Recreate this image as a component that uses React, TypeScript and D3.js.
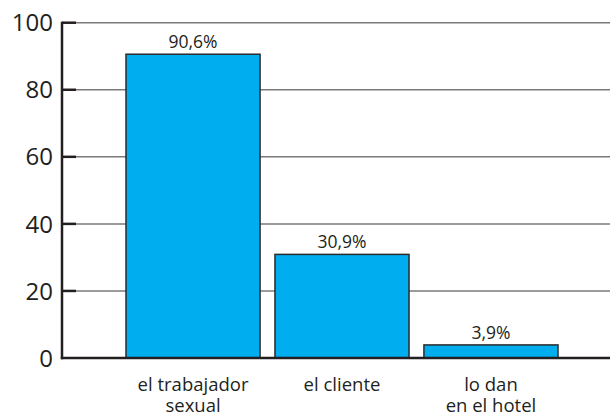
import { useEffect, useRef } from 'react';
import * as d3 from 'd3';

const categories = [['el trabajador', 'sexual'], ['el cliente'], ['lo dan', 'en el hotel']];
const values = [90.6, 30.9, 3.9];
const valueLabels = ['90,6%', '30,9%', '3,9%'];
const yTicks = [0, 20, 40, 60, 80, 100];

const FONT = '"Open Sans", "Noto Sans", sans-serif';

export default function App() {
  const svgRef = useRef<SVGSVGElement>(null);

  useEffect(() => {
    if (!svgRef.current) return;
    const svg = d3.select(svgRef.current);
    svg.selectAll('*').remove();

    const width = 610;
    const axisX = 62;

    const yScale = d3.scaleLinear().domain([0, 100]).range([358, 22.7]);
    const xScale = d3
      .scaleBand<number>()
      .domain(values.map((_, i) => i))
      .range([126, 558])
      .paddingInner(0.1)
      .paddingOuter(0);

    // grid lines
    svg
      .append('g')
      .selectAll('line')
      .data(yTicks.filter((t) => t > 0))
      .enter()
      .append('line')
      .attr('x1', axisX)
      .attr('x2', width)
      .attr('y1', (d) => yScale(d))
      .attr('y2', (d) => yScale(d))
      .attr('stroke', '#7a7a7a')
      .attr('stroke-width', 1.5);

    // tick marks (inside)
    svg
      .append('g')
      .selectAll('line')
      .data(yTicks.filter((t) => t > 0))
      .enter()
      .append('line')
      .attr('x1', axisX)
      .attr('x2', axisX + 14)
      .attr('y1', (d) => yScale(d))
      .attr('y2', (d) => yScale(d))
      .attr('stroke', '#231f20')
      .attr('stroke-width', 2.5);

    // tick labels
    svg
      .append('g')
      .selectAll('text')
      .data(yTicks)
      .enter()
      .append('text')
      .attr('x', 53)
      .attr('y', (d) => yScale(d))
      .attr('dy', '0.36em')
      .attr('text-anchor', 'end')
      .attr('font-family', FONT)
      .attr('font-size', 24)
      .attr('fill', '#231f20')
      .text((d) => d);

    // bars
    svg
      .append('g')
      .selectAll('rect')
      .data(values)
      .enter()
      .append('rect')
      .attr('x', (_, i) => xScale(i)!)
      .attr('y', (d) => yScale(d))
      .attr('width', xScale.bandwidth())
      .attr('height', (d) => yScale(0) - yScale(d))
      .attr('fill', '#00adee')
      .attr('stroke', '#2b2b2b')
      .attr('stroke-width', 1.5);

    // value labels
    svg
      .append('g')
      .selectAll('text')
      .data(values)
      .enter()
      .append('text')
      .attr('x', (_, i) => xScale(i)! + xScale.bandwidth() / 2)
      .attr('y', (d) => yScale(d) - 6)
      .attr('text-anchor', 'middle')
      .attr('font-family', FONT)
      .attr('font-size', 17.5)
      .attr('fill', '#231f20')
      .text((_, i) => valueLabels[i]);

    // axis lines
    svg
      .append('line')
      .attr('x1', axisX)
      .attr('x2', axisX)
      .attr('y1', yScale(100) - 1)
      .attr('y2', yScale(0) + 1.2)
      .attr('stroke', '#231f20')
      .attr('stroke-width', 2.5);
    svg
      .append('line')
      .attr('x1', axisX - 1.2)
      .attr('x2', width)
      .attr('y1', yScale(0))
      .attr('y2', yScale(0))
      .attr('stroke', '#231f20')
      .attr('stroke-width', 2.5);

    // category labels
    const cats = svg
      .append('g')
      .selectAll('text')
      .data(categories)
      .enter()
      .append('text')
      .attr('x', (_, i) => xScale(i)! + xScale.bandwidth() / 2)
      .attr('y', 391)
      .attr('text-anchor', 'middle')
      .attr('font-family', FONT)
      .attr('font-size', 18.5)
      .attr('fill', '#231f20');
    cats
      .selectAll('tspan')
      .data((d) => d)
      .enter()
      .append('tspan')
      .attr('x', function () {
        return (this.parentNode as SVGTextElement).getAttribute('x');
      })
      .attr('dy', (_, j) => (j === 0 ? 0 : 21))
      .text((d) => d);
  }, []);

  return (
    <div style={{ position: 'fixed', left: 0, top: 0, width: 610, height: 416, background: '#fff' }}>
      <svg ref={svgRef} width={610} height={416}></svg>
    </div>
  );
}
